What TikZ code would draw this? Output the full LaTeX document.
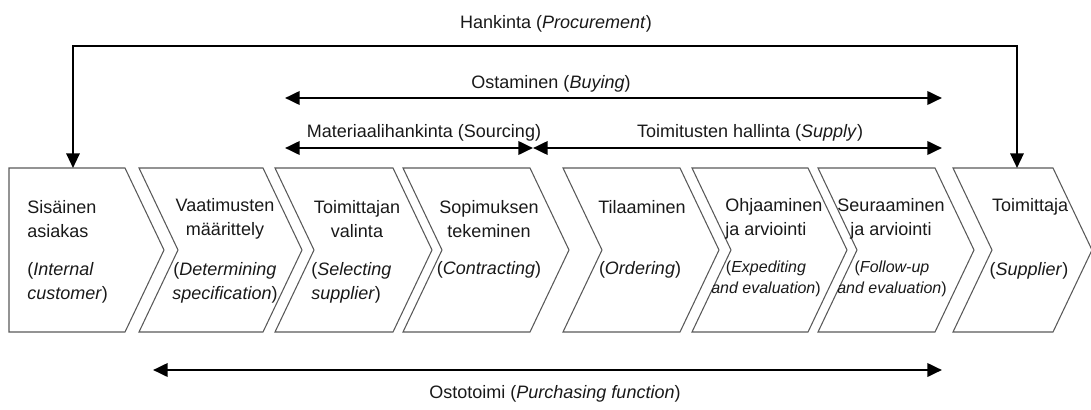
\documentclass[tikz,border=0pt]{standalone}
\usepackage{fontspec}
\setmainfont{Liberation Sans}
\usetikzlibrary{arrows.meta}
\tikzset{every node/.append style={font=\fontsize{13.5}{18}\selectfont, text=black!90, inner sep=0pt}}
\tikzset{chev/.style={draw=black!65, line width=0.8pt, line join=miter}}
\tikzset{tip/.style={Triangle[length=11pt,width=10pt]}}
\tikzset{span/.style={line width=2pt, {Triangle[length=11pt,width=10pt]}-{Triangle[length=11pt,width=10pt]}}}
\tikzset{proc/.style={line width=1.6pt, {Triangle[length=11pt,width=10pt]}-{Triangle[length=11pt,width=10pt]}}}
\tikzset{small/.style={font=\fontsize{12}{16}\selectfont}}

\begin{document}
\begin{tikzpicture}[x=0.75pt, y=-0.75pt]
\useasboundingbox (0,0) rectangle (1091,410);
% process chevrons
\draw[chev] (9,168) -- (125,168) -- (164,250) -- (125,332) -- (9,332) -- cycle;
\foreach \l/\r in {139/263, 275/393, 403/530, 563/680, 692/808, 818/935, 953/1053}
  \draw[chev] (\l,168) -- (\r,168) -- (\r+39,250) -- (\r,332) -- (\l,332) -- (\l+39,250) -- cycle;

% chevron texts
\node[align=left, anchor=west] (fi1) at (27,219) {Sisäinen\\asiakas};
\node[align=left, anchor=west] (en1) at (27,283) {(\textit{Internal}\\\textit{customer})};
\node[align=center] (fi2) at (225,219) {Vaatimusten\\määrittely};
\node[align=center] (en2) at (225,283) {(\textit{Determining}\\\textit{specification})};
\node[align=center] (fi3) at (357,219) {Toimittajan\\valinta};
\node[align=left, anchor=west] (en3) at (311,283) {(\textit{Selecting}\\\textit{supplier})};
\node[align=center] (fi4) at (489,219) {Sopimuksen\\tekeminen};
\node (en4) at (489,270) {(\textit{Contracting})};
\node (fi5) at (642,207) {Tilaaminen};
\node (en5) at (640,270) {(\textit{Ordering})};
\node[align=left, anchor=west] (fi6) at (725,219) {Ohjaaminen\\ja arviointi};
\node[small, align=center] (en6) at (766,279) {(\textit{Expediting}\\\textit{and evaluation})};
\node[align=center] (fi7) at (891,219) {Seuraaminen\\ja arviointi};
\node[small, align=center] (en7) at (892,279) {(\textit{Follow-up}\\\textit{and evaluation})};
\node (fi8) at (1030,207) {Toimittaja};
\node (en8) at (1029,271) {(\textit{Supplier})};

% spans
\coordinate (c1) at (73,168);
\coordinate (c8) at (1017,168);
\coordinate (pl) at (73,46);
\coordinate (pr) at (1017,46);
\draw[proc] (c1) -- (pl) -- (pr) -- (c8);
\node (hank) at (556,24) {Hankinta (\textit{Procurement})};

\coordinate (b1) at (285,98);
\coordinate (b2) at (942,98);
\draw[span] (b1) -- (b2);
\node (ost) at (551,84) {Ostaminen (\textit{Buying})};

\coordinate (s1) at (285,148);
\coordinate (sm) at (533,148);
\coordinate (s2) at (942,148);
\draw[span] (s1) -- (sm);
\draw[span] (sm) -- (s2);
\node (mat) at (424,133) {Materiaalihankinta (Sourcing)};
\node (toim) at (750,133) {Toimitusten hallinta (\textit{Supply})};

\coordinate (o1) at (153,370);
\coordinate (o2) at (942,370);
\draw[span] (o1) -- (o2);
\node (osto) at (555,394) {Ostotoimi (\textit{Purchasing function})};
\end{tikzpicture}
\end{document}
